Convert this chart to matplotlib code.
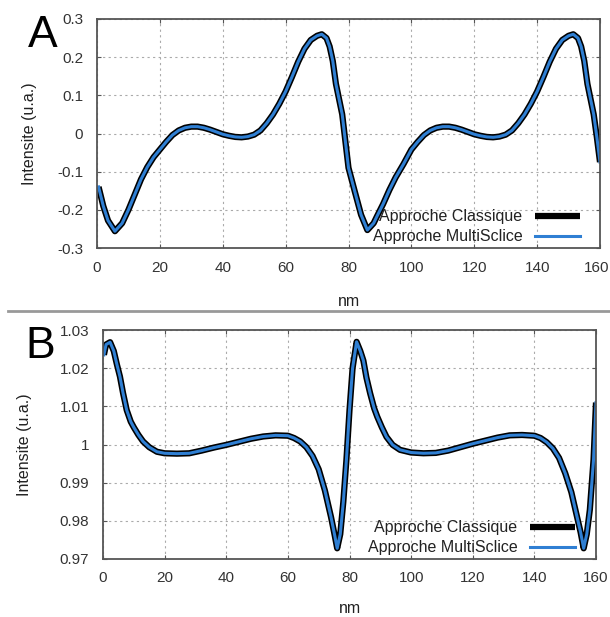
import matplotlib
matplotlib.use("Agg")
import matplotlib.pyplot as plt
from matplotlib.lines import Line2D
from matplotlib.transforms import ScaledTranslation

plt.rcParams['font.family'] = ['Liberation Sans', 'DejaVu Sans']

# panel A : intensite vs position (nm)
xa = [0.5, 2, 3.5, 5.7, 8, 10, 12, 14, 16, 18, 20, 22, 24, 26, 28, 30, 32, 34, 36,
      38, 40, 42, 44, 46, 48, 50, 52, 54, 56, 58, 60, 62, 64, 66, 68, 70, 71.5,
      73, 74, 75, 76, 77, 78, 79, 80, 82, 84, 86, 88, 89, 91, 93, 95, 97.5, 100,
      102, 104, 106, 108, 110, 112, 114, 116, 118, 120, 122, 124, 126, 128, 130,
      132, 134, 136, 138, 140, 142, 144, 146, 148, 150, 151.5, 153, 154, 155,
      156, 157, 158, 159, 160]
ya_classique = [-0.14, -0.19, -0.228, -0.256, -0.235, -0.2, -0.16, -0.12, -0.088,
                -0.062, -0.042, -0.022, -0.004, 0.008, 0.015, 0.018, 0.018, 0.015,
                0.01, 0.004, -0.002, -0.006, -0.009, -0.01, -0.008, -0.003, 0.008,
                0.027, 0.05, 0.078, 0.11, 0.148, 0.188, 0.222, 0.245, 0.256, 0.26,
                0.25, 0.228, 0.19, 0.13, 0.09, 0.05, -0.02, -0.09, -0.152, -0.213,
                -0.253, -0.235, -0.218, -0.185, -0.148, -0.115, -0.08, -0.042,
                -0.022, -0.004, 0.008, 0.015, 0.018, 0.018, 0.015, 0.01, 0.004,
                -0.002, -0.006, -0.009, -0.01, -0.008, -0.003, 0.008, 0.027, 0.05,
                0.078, 0.11, 0.148, 0.188, 0.222, 0.245, 0.256, 0.26, 0.25, 0.228,
                0.19, 0.13, 0.09, 0.05, -0.01, -0.075]
ya_multislice = list(ya_classique)

# panel B
xb = [0.3, 1.0, 2.3, 3.5, 4.5, 5.5, 6.5, 7.7, 9, 10, 11.5, 13, 15, 17.5, 20, 24, 28,
      32, 36, 40, 44, 48, 52, 56, 60, 62, 64, 66, 68, 70, 72, 74, 75, 76, 77, 78,
      79, 80, 81, 82.3, 83.5, 84.5, 85.5, 86.7, 88, 89, 90.5, 92, 94, 96.4, 100,
      104, 108, 112, 116, 120, 124, 128, 132, 136, 140, 142, 144, 146, 148, 150,
      152, 154, 155, 156, 157, 158, 159.2, 160]
yb_classique = [1.0235, 1.0262, 1.0268, 1.0245, 1.021, 1.0178, 1.0135, 1.009, 1.006,
                1.0045, 1.0025, 1.0008, 0.9993, 0.9981, 0.9977, 0.9976, 0.9977,
                0.9984, 0.9992, 0.9999, 1.0007, 1.0015, 1.0021, 1.0024, 1.0023,
                1.0017, 1.0008, 0.9993, 0.997, 0.9935, 0.988, 0.981, 0.977, 0.9728,
                0.9765, 0.985, 0.996, 1.009, 1.020, 1.0269, 1.0245, 1.022, 1.0175,
                1.0134, 1.0095, 1.0073, 1.0045, 1.002, 0.9999, 0.9986, 0.9979,
                0.9977, 0.9978, 0.9984, 0.9993, 1.0002, 1.001, 1.0018, 1.0024,
                1.0025, 1.0023, 1.0017, 1.0006, 0.999, 0.9965, 0.9925, 0.9875,
                0.9805, 0.977, 0.9728, 0.9765, 0.9829, 0.996, 1.011]
yb_multislice = list(yb_classique)

x_ticks = [0, 20, 40, 60, 80, 100, 120, 140, 160]
ya_ticks = [-0.3, -0.2, -0.1, 0, 0.1, 0.2, 0.3]
ya_labels = ['-0.3', '-0.2', '-0.1', '0', '0.1', '0.2', '0.3']
yb_ticks = [0.97, 0.98, 0.99, 1.0, 1.01, 1.02, 1.03]
yb_labels = ['0.97', '0.98', '0.99', '1', '1.01', '1.02', '1.03']
labels = ['Approche Classique', 'Approche MultiSclice']

W, H = 610, 617
fig = plt.figure(figsize=(6.1, 6.17), dpi=100)

ax1 = fig.add_axes([97 / W, 1 - 248 / H, 503 / W, 229 / H])
ax2 = fig.add_axes([103 / W, 1 - 559 / H, 493 / W, 229 / H])

blue = '#2f7fd3'
panels = [(ax1, xa, ya_classique, ya_multislice, ya_ticks, ya_labels,
           -0.119, -0.20, (0.960, 0.017)),
          (ax2, xb, yb_classique, yb_multislice, yb_ticks, yb_labels,
           -0.144, -0.185, (0.957, 0.017))]
for ax, x, yc, ym, yt, yl, ylx, xly, leg_anchor in panels:
    ax.plot(x, yc, color='black', lw=4.5, solid_capstyle='butt', label=labels[0])
    ax.plot(x, ym, color=blue, lw=2.2, label=labels[1])
    ax.set_xlim(0, 160)
    ax.set_ylim(yt[0], yt[-1])
    ax.set_xticks(x_ticks)
    ax.set_yticks(yt)
    ax.set_yticklabels(yl)
    ax.grid(True, color='#aaaaaa', ls=(0, (2, 3)), lw=0.8)
    for s in ax.spines.values():
        s.set_color('#555555')
        s.set_linewidth(1.3)
    ax.tick_params(direction='in', length=3, color='#555555', labelsize=11,
                   labelcolor='#333333', top=True, right=True)
    ax.tick_params(axis='y', pad=10)
    ax.tick_params(axis='x', pad=9)
    ax.set_xlabel('nm', fontsize=11.5, color='#222222')
    ax.set_ylabel('Intensite (u.a.)', fontsize=11.5, color='#222222')
    ax.yaxis.set_label_coords(ylx, 0.5)
    ax.xaxis.set_label_coords(0.5, xly)
    leg = ax.legend(loc='lower right', bbox_to_anchor=leg_anchor, frameon=False,
                    markerfirst=False, fontsize=11.5, handlelength=2.8,
                    labelspacing=0.3, borderaxespad=0, borderpad=0,
                    handletextpad=0.8)
    for t in leg.get_texts():
        t.set_color('#222222')

# "160" of the top panel sits right at the figure edge: nudge it in a bit
last = ax1.get_xticklabels()[-1]
last.set_transform(last.get_transform() + ScaledTranslation(-2.5 / 72, 0, fig.dpi_scale_trans))

fig.text(28 / W, 1 - 47 / H, 'A', fontsize=32, ha='left', va='baseline')
fig.text(25 / W, 1 - 358 / H, 'B', fontsize=32, ha='left', va='baseline')

fig.add_artist(Line2D([8 / W, 1], [1 - 311 / H, 1 - 311 / H], color='#999999', lw=2))

fig.savefig('out.png', dpi=100)
